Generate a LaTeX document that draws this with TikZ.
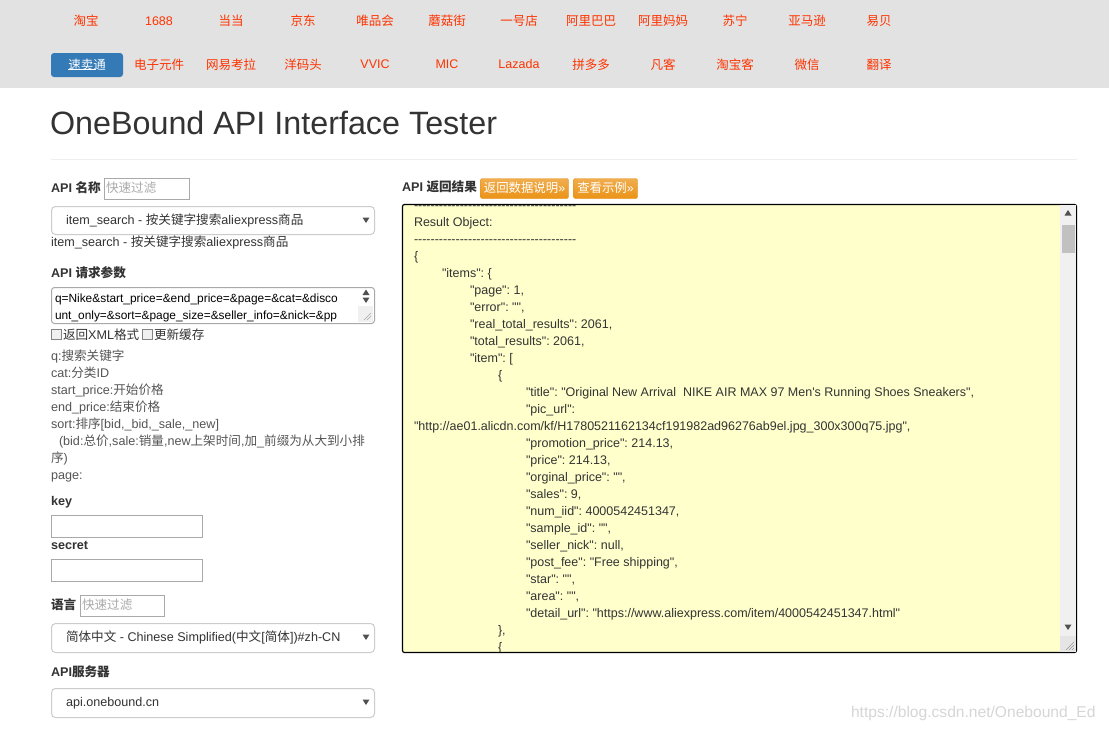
\documentclass[tikz,border=0pt]{standalone}
\usepackage{fontspec}
\setmainfont{Liberation Sans}
\newfontfamily\jsf{Liberation Sans}
\newfontfamily\cjk{Noto Sans CJK SC}
\newcommand\zh[1]{{\cjk #1}}
\definecolor{navbg}{HTML}{E2E2E2}
\definecolor{navred}{HTML}{FF3300}
\definecolor{btnblue}{HTML}{337AB7}
\definecolor{txt}{HTML}{333333}
\definecolor{txtgray}{HTML}{555555}
\definecolor{bordc}{HTML}{CCCCCC}
\definecolor{inbord}{HTML}{A9A9A9}
\definecolor{phc}{HTML}{AAAAAA}
\definecolor{yell}{HTML}{FFFFCC}
\definecolor{otop}{HTML}{F0AD4E}
\definecolor{obot}{HTML}{EB9316}
\definecolor{obord}{HTML}{E38D13}
\definecolor{sbar}{HTML}{F0F0F0}
\definecolor{thumb}{HTML}{C1C1C1}
\definecolor{arrc}{HTML}{505050}
\definecolor{hrc}{HTML}{EEEEEE}
\definecolor{wmark}{HTML}{D6D6D6}
\tikzset{
  nav/.style={font=\fontsize{12.5}{15}\selectfont, text=navred},
  lbl/.style={anchor=base west, font=\fontsize{12.6}{15}\selectfont, text=txt},
  blbl/.style={anchor=base west, font=\fontsize{12.6}{15}\selectfont\bfseries, text=txt},
  plbl/.style={anchor=base west, font=\fontsize{12.6}{15}\selectfont, text=txtgray},
  ph/.style={anchor=base west, font=\fontsize{12.6}{15}\selectfont, text=phc},
  tal/.style={anchor=base west, font=\fontsize{11.9}{15}\selectfont, text=black},
  js/.style={anchor=base west, font=\jsf\fontsize{12.5}{15}\selectfont, text=txt},
  inbox/.style={draw=inbord, line width=1pt, fill=white},
  selbox/.style={draw=bordc, line width=1pt, fill=white, rounded corners=4pt},
  obtn/.style={top color=otop, bottom color=obot, draw=obord, rounded corners=2pt},
  btxt/.style={font=\fontsize{12.4}{15}\selectfont, text=white},
}
\newcommand\downtri[2]{\fill[arrc] (#1-3.5,#2-2.5) -- (#1+3.5,#2-2.5) -- (#1,#2+3) -- cycle;}
\newcommand\uptri[2]{\fill[arrc] (#1-3.5,#2+2.5) -- (#1+3.5,#2+2.5) -- (#1,#2-3) -- cycle;}
\frenchspacing
\begin{document}
\frenchspacing
\begin{tikzpicture}[x=1pt,y=-1pt, every node/.style={inner sep=0pt, outer sep=0pt}]
\useasboundingbox (0,0) rectangle (1109,731);
\fill[white] (0,0) rectangle (1109,731);
% nav bar
\fill[navbg] (0,0) rectangle (1109,88);
\node[nav] (n1) at (86,21) {\zh{淘宝}};
\node[nav] (n2) at (159,21) {1688};
\node[nav] (n3) at (231,21) {\zh{当当}};
\node[nav] (n4) at (303,21) {\zh{京东}};
\node[nav] (n5) at (375,21) {\zh{唯品会}};
\node[nav] (n6) at (447,21) {\zh{蘑菇街}};
\node[nav] (n7) at (519,21) {\zh{一号店}};
\node[nav] (n8) at (591,21) {\zh{阿里巴巴}};
\node[nav] (n9) at (663,21) {\zh{阿里妈妈}};
\node[nav] (n10) at (735,21) {\zh{苏宁}};
\node[nav] (n11) at (807,21) {\zh{亚马逊}};
\node[nav] (n12) at (879,21) {\zh{易贝}};
\fill[btnblue, rounded corners=3pt] (51,53) rectangle (123,77);
\node[nav, text=white] (m1) at (87,64.5) {\zh{速卖通}};
\draw[white, line width=0.8pt] (m1.south west) ++(0,-1) -- ++(28,0);
\node[nav] (m2) at (159,64.5) {\zh{电子元件}};
\node[nav] (m3) at (231,64.5) {\zh{网易考拉}};
\node[nav] (m4) at (303,64.5) {\zh{洋码头}};
\node[nav] (m5) at (375,64.5) {VVIC};
\node[nav] (m6) at (447,64.5) {MIC};
\node[nav] (m7) at (519,64.5) {Lazada};
\node[nav] (m8) at (591,64.5) {\zh{拼多多}};
\node[nav] (m9) at (663,64.5) {\zh{凡客}};
\node[nav] (m10) at (735,64.5) {\zh{淘宝客}};
\node[nav] (m11) at (807,64.5) {\zh{微信}};
\node[nav] (m12) at (879,64.5) {\zh{翻译}};
% title
\node[anchor=base west, font=\fontsize{32.3}{38}\selectfont, text=txt] (title) at (50,134.5) {OneBound API Interface Tester};
\draw[hrc, line width=1pt] (51,159) -- (1077,159);
% left column
\draw[inbox] (104.5,178.5) rectangle (189.5,199.5);
\node[blbl] (l1) at (51,192.5) {API \zh{名称}};
\node[ph] (p1) at (106,192.5) {\zh{快速过滤}};
\draw[selbox] (51.5,206.5) rectangle (374.5,234.5);
\node[lbl] (s1) at (66,224.5) {item\_search - \zh{按关键字搜索}aliexpress\zh{商品}};
\downtri{366}{220}
\node[lbl] (d1) at (51,246.5) {item\_search - \zh{按关键字搜索}aliexpress\zh{商品}};
\node[blbl] (l2) at (51,277.5) {API \zh{请求参数}};
\draw[draw=inbord, line width=1pt, fill=white, rounded corners=3pt] (51.5,287.5) rectangle (374.5,323.5);
\fill[sbar] (358,306) rectangle (373,322);
\draw[inbord, line width=0.5pt] (364,320) -- (371,313) (367,320) -- (371,316);
\uptri{366}{292.5}
\downtri{366}{300}
\node[tal] (t1) at (55,302.5) {q=Nike\&start\_price=\&end\_price=\&page=\&cat=\&disco};
\node[tal] (t2) at (55,319.5) {unt\_only=\&sort=\&page\_size=\&seller\_info=\&nick=\&pp};
\draw[draw=arrc!70, fill=black!6, line width=0.6pt] (51.5,329.5) rectangle (61.5,339.5);
\node[lbl] (c1) at (63,339.5) {\zh{返回}XML\zh{格式}};
\draw[draw=arrc!70, fill=black!6, line width=0.6pt] (142.5,329.5) rectangle (152.5,339.5);
\node[lbl] (c2) at (154,339.5) {\zh{更新缓存}};
\node[plbl] (q1) at (51,360.5) {q:\zh{搜索关键字}};
\node[plbl] (q2) at (51,377.5) {cat:\zh{分类}ID};
\node[plbl] (q3) at (51,394.5) {start\_price:\zh{开始价格}};
\node[plbl] (q4) at (51,411.5) {end\_price:\zh{结束价格}};
\node[plbl] (q5) at (51,428.5) {sort:\zh{排序}[bid,\_bid,\_sale,\_new]};
\node[plbl] (q6) at (59,445.5) {(bid:\zh{总价},sale:\zh{销量},new\zh{上架时间},\zh{加}\_\zh{前缀为从大到小排}};
\node[plbl] (q7) at (51,462.5) {\zh{序})};
\node[plbl] (q8) at (51,479.5) {page:};
\node[blbl] (k1) at (51,505.5) {key};
\draw[inbox] (51.5,515.5) rectangle (202.5,537.5);
\node[blbl] (k2) at (51,549.5) {secret};
\draw[inbox] (51.5,559.5) rectangle (202.5,581.5);
\node[blbl] (l3) at (51,609.5) {\zh{语言}};
\draw[inbox] (80.5,595.5) rectangle (164.5,616.5);
\node[ph] (p2) at (82,609.5) {\zh{快速过滤}};
\draw[selbox] (51.5,623.5) rectangle (374.5,652.5);
\node[lbl] (s2) at (66,641.5) {\zh{简体中文} - Chinese Simplified(\zh{中文}[\zh{简体}])\#zh-CN};
\downtri{366}{637}
\node[blbl] (l4) at (51,676.5) {API\zh{服务器}};
\draw[selbox] (51.5,688.5) rectangle (374.5,717.5);
\node[lbl] (s3) at (66,706.5) {api.onebound.cn};
\downtri{366}{702}
% right column
\node[blbl] (r1) at (402,191.5) {API \zh{返回结果}};
\shade[obtn] (480.5,178.5) rectangle (568.5,198.5);
\node[btxt] (b1) at (524.5,188) {\zh{返回数据说明}»};
\shade[obtn] (573.5,178.5) rectangle (637.5,198.5);
\node[btxt] (b2) at (605.5,188) {\zh{查看示例}»};
\draw[fill=yell, draw=black, line width=1.2pt, rounded corners=2pt] (402.5,204.5) rectangle (1076.5,652.5);
\fill[sbar] (1060,205.2) rectangle (1075.8,636);
\fill[thumb] (1062,225) rectangle (1075,253);
\uptri{1068}{213}
\downtri{1068}{627}
\fill[navbg!90] (1060,636) rectangle (1075.8,651.8);
\draw[arrc!60, line width=0.5pt] (1066,650) -- (1074,642) (1069,650) -- (1074,645) (1072,650) -- (1074,648);
\begin{scope}
\clip (403.2,205.2) rectangle (1059.5,651.8);
\node[js] (j0) at (414,209) {---------------------------------------};
\node[js] (j1) at (414,226.5) {Result Object:};
\node[js] (j2) at (414,243.5) {---------------------------------------};
\node[js] (j3) at (414,260.5) {\{};
\node[js] (j4) at (442,277.5) {"items": \{};
\node[js] (j5) at (470,294.5) {"page": 1,};
\node[js] (j6) at (470,311.5) {"error": "",};
\node[js] (j7) at (470,328.5) {"real\_total\_results": 2061,};
\node[js] (j8) at (470,345.5) {"total\_results": 2061,};
\node[js] (j9) at (470,362.5) {"item": [};
\node[js] (j10) at (498,379.5) {\{};
\node[js] (j11) at (526,396.5) {"title": "Original New Arrival\ \ NIKE AIR MAX 97 Men's Running Shoes Sneakers",};
\node[js] (j12) at (526,413.5) {"pic\_url":};
\node[js] (j13) at (414,430.5) {"http://ae01.alicdn.com/kf/H1780521162134cf191982ad96276ab9el.jpg\_300x300q75.jpg",};
\node[js] (j14) at (526,447.5) {"promotion\_price": 214.13,};
\node[js] (j15) at (526,464.5) {"price": 214.13,};
\node[js] (j16) at (526,481.5) {"orginal\_price": "",};
\node[js] (j17) at (526,498.5) {"sales": 9,};
\node[js] (j18) at (526,515.5) {"num\_iid": 4000542451347,};
\node[js] (j19) at (526,532.5) {"sample\_id": "",};
\node[js] (j20) at (526,549.5) {"seller\_nick": null,};
\node[js] (j21) at (526,566.5) {"post\_fee": "Free shipping",};
\node[js] (j22) at (526,583.5) {"star": "",};
\node[js] (j23) at (526,600.5) {"area": "",};
\node[js] (j24) at (526,617.5) {"detail\_url": "https://www.aliexpress.com/item/4000542451347.html"};
\node[js] (j25) at (498,634.5) {\},};
\node[js] (j26) at (498,651.5) {\{};
\end{scope}
% watermark
\node[anchor=base west, font=\fontsize{15.6}{18}\selectfont, text=wmark] (wm) at (851,717) {https://blog.csdn.net/Onebound\_Ed};
\end{tikzpicture}
\end{document}
